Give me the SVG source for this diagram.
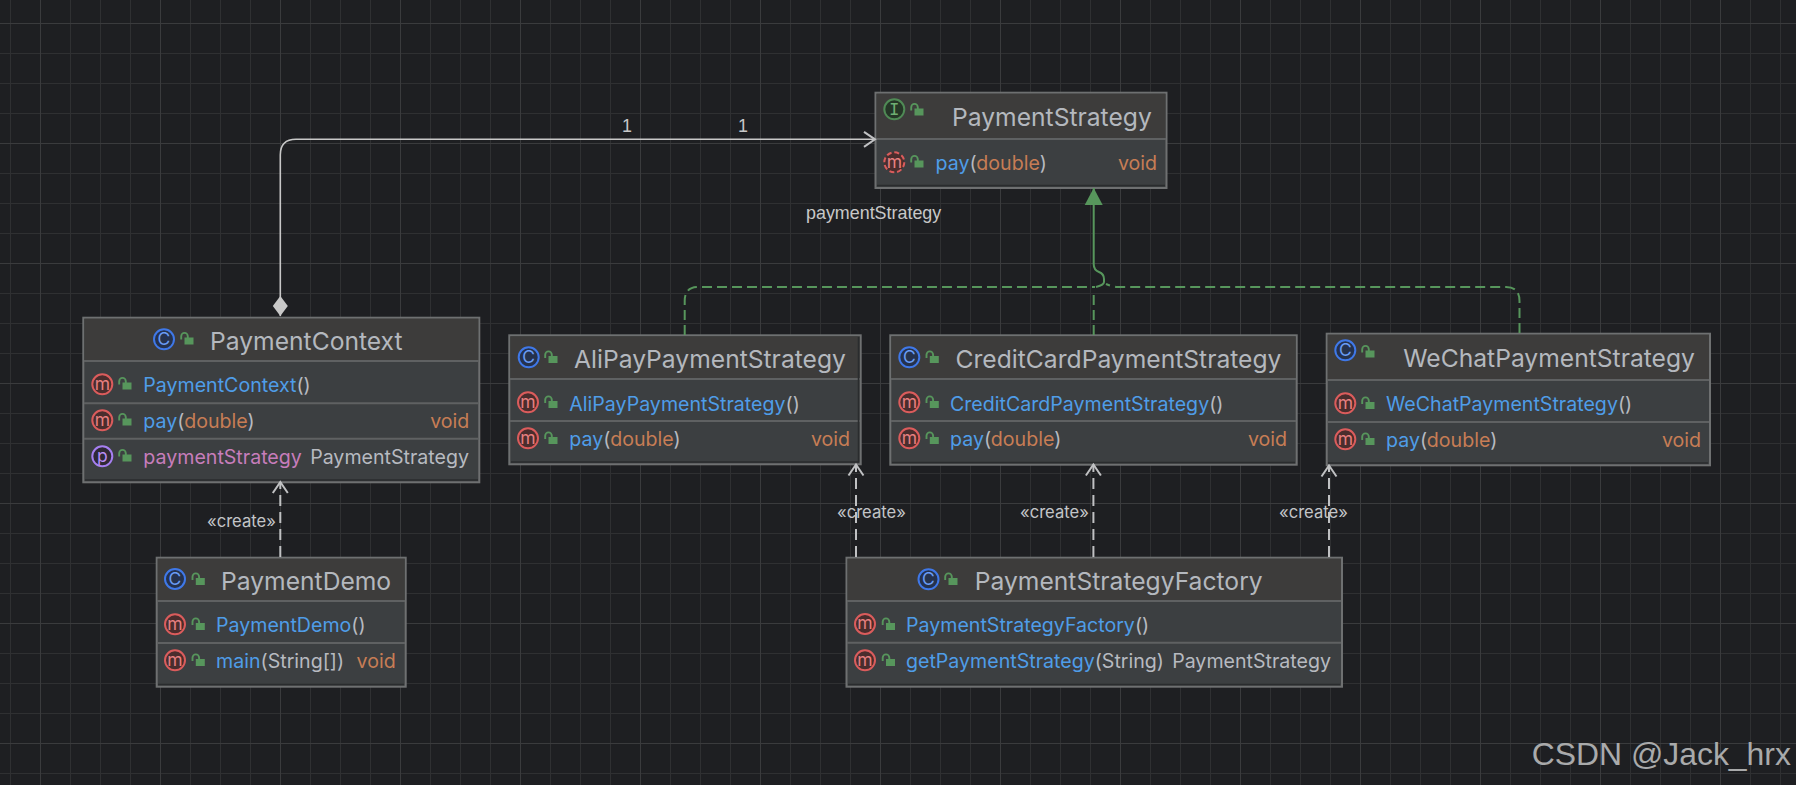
<svg xmlns="http://www.w3.org/2000/svg" width="1796" height="785" viewBox="0 0 1796 785">
<style>
text{font-family:"Inter","Noto Sans",sans-serif;white-space:pre}
.box{fill:#3c3f41;stroke:#6e7071;stroke-width:2}
.hd{fill:#3d3c3b}
.dv{stroke:#5f6162;stroke-width:2;fill:none}
.ed{stroke:#2a2c2e;stroke-width:1.5;fill:none}
.t{font-size:24.65px;fill:#b4b8be}
.r{font-size:19.6px;fill:#4f9de8}
.g{fill:#b7bac0}
.o{fill:#c77d55}
.v{font-size:19.6px;fill:#c77d55;text-anchor:end}
.ty{font-size:19.6px;fill:#b7bac0;text-anchor:end}
.pp{font-size:19.6px;fill:#c77dbb}
.ic{stroke-width:2}
.il{font-size:17.5px;text-anchor:middle}
.c .ic{fill:#25324d;stroke:#3f78e8}.c .il{fill:#6a9cf5}
.m .ic{fill:#4a2d2d;stroke:#db5c5c}.m .il{fill:#e88080}
.i .ic{fill:#253627;stroke:#4f8a55}.i .il{fill:#6fae72;font-family:"Liberation Mono",monospace}
.p .ic{fill:#2f2936;stroke:#a67ff0}.p .il{fill:#b88ef5}
.lbl{font-size:16.6px;fill:#c3c5c8}
.arl{font-family:"Liberation Sans",Arial,sans-serif;font-size:17.9px;fill:#c8c8c8}
.dash{fill:none;stroke:#c0c1c3;stroke-width:2;stroke-dasharray:11 6}
.real{fill:none;stroke:#57965c;stroke-width:2;stroke-dasharray:10 5}
</style>
<defs>
<pattern id="grid" width="120" height="120" patternUnits="userSpaceOnUse" x="10" y="23">
<path d="M0.5 0V120M30.5 0V120M60.5 0V120M90.5 0V120M0 0.5H120M0 30.5H120M0 60.5H120M0 90.5H120" stroke="#2f3032" stroke-width="1" fill="none"/>
<path d="M30.5 0V120M0 0.5H120" stroke="#3a3b3d" stroke-width="1" fill="none"/>
</pattern>
<g id="lock"><rect x="-2.5" y="-1.5" width="9" height="7" fill="#57965c"/><path d="M-5.8 0.5V-2.8a3.3 3.3 0 0 1 6.6 0V-0.5" fill="none" stroke="#57965c" stroke-width="1.9"/></g>
<marker id="open" markerUnits="userSpaceOnUse" markerWidth="24" markerHeight="24" refX="20" refY="12" orient="auto" overflow="visible"><path d="M9 4.5L20 12L9 19.5" fill="none" stroke="#c0c1c3" stroke-width="2"/></marker>
<marker id="tri" markerUnits="userSpaceOnUse" markerWidth="24" markerHeight="24" refX="20" refY="12" orient="auto"><path d="M3 3L20 12L3 21Z" fill="#57965c"/></marker>
<marker id="dia" markerUnits="userSpaceOnUse" markerWidth="24" markerHeight="24" refX="1" refY="12" orient="auto"><path d="M1 12L11 4.5L21 12L11 19.5Z" fill="#c8c8c8"/></marker>
</defs>
<rect width="1796" height="785" fill="#1e1f22"/>
<rect width="1796" height="785" fill="url(#grid)"/>

<g id="PaymentStrategy">
<rect class="box" x="875.5" y="92.7" width="291" height="95.3"/><rect class="hd" x="876.5" y="93.7" width="289" height="45"/>
<path class="dv" d="M876 139H1166"/><path class="ed" d="M877 185.5H1165"/>
<g class="i"><circle class="ic" cx="894.3" cy="109.3" r="10"/><text class="il" x="894.3" y="115">I</text></g><use href="#lock" x="917" y="110"/>
<text class="t" x="952" y="126">PaymentStrategy</text>
<g class="m"><circle class="ic" cx="894.3" cy="162.3" r="10" stroke-dasharray="5 2.8"/><text class="il" x="894.3" y="167.5">m</text></g><use href="#lock" x="917" y="162"/>
<text class="r" x="935.5" y="170">pay<tspan class="g">(</tspan><tspan class="o">double</tspan><tspan class="g">)</tspan></text>
<text class="v" x="1157" y="170">void</text>
</g>

<g id="PaymentContext">
<rect class="box" x="83.3" y="317.7" width="396" height="164.6"/><rect class="hd" x="84.3" y="318.7" width="394" height="42"/>
<path class="dv" d="M84 361H479M84 403.3H479M84 438.7H479"/><path class="ed" d="M85 480H478"/>
<g class="c"><circle class="ic" cx="164" cy="339.3" r="10"/><text class="il" x="164" y="345.4">C</text></g><use href="#lock" x="187" y="339"/>
<text class="t" x="210" y="350">PaymentContext</text>
<g class="m"><circle class="ic" cx="102.3" cy="384.3" r="10"/><text class="il" x="102.3" y="389.5">m</text></g><use href="#lock" x="125" y="384"/>
<text class="r" x="143.3" y="392">PaymentContext<tspan class="g">()</tspan></text>
<g class="m"><circle class="ic" cx="102.3" cy="420.3" r="10"/><text class="il" x="102.3" y="425.5">m</text></g><use href="#lock" x="125" y="420"/>
<text class="r" x="143.3" y="428">pay<tspan class="g">(</tspan><tspan class="o">double</tspan><tspan class="g">)</tspan></text>
<text class="v" x="469.3" y="428">void</text>
<g class="p"><circle class="ic" cx="102.3" cy="456.3" r="10"/><text class="il" x="102.3" y="461.5">p</text></g><use href="#lock" x="125" y="456"/>
<text class="pp" x="143.3" y="464">paymentStrategy</text>
<text class="ty" x="469" y="464">PaymentStrategy</text>
</g>

<g id="AliPayPaymentStrategy">
<rect class="box" x="509.3" y="335.3" width="351.4" height="129"/><rect class="hd" x="510.3" y="336.3" width="349.4" height="42"/>
<path class="dv" d="M510 379H860M510 421H860"/><path class="ed" d="M511 462H859M858.5 337V462"/>
<g class="c"><circle class="ic" cx="528.7" cy="357.3" r="10"/><text class="il" x="528.7" y="363.4">C</text></g><use href="#lock" x="551" y="357.5"/>
<text class="t" x="574" y="367.5">AliPayPaymentStrategy</text>
<g class="m"><circle class="ic" cx="528" cy="402.3" r="10"/><text class="il" x="528" y="407.5">m</text></g><use href="#lock" x="551" y="402.5"/>
<text class="r" x="569.3" y="410.5">AliPayPaymentStrategy<tspan class="g">()</tspan></text>
<g class="m"><circle class="ic" cx="528" cy="438.3" r="10"/><text class="il" x="528" y="443.5">m</text></g><use href="#lock" x="551" y="438.5"/>
<text class="r" x="569.3" y="446">pay<tspan class="g">(</tspan><tspan class="o">double</tspan><tspan class="g">)</tspan></text>
<text class="v" x="850" y="446">void</text>
</g>

<g id="CreditCardPaymentStrategy">
<rect class="box" x="890.3" y="335.3" width="406.4" height="129.4"/><rect class="hd" x="891.3" y="336.3" width="404.4" height="42"/>
<path class="dv" d="M891 379H1296M891 421H1296"/><path class="ed" d="M892 462.5H1295"/>
<g class="c"><circle class="ic" cx="909.3" cy="357.3" r="10"/><text class="il" x="909.3" y="363.4">C</text></g><use href="#lock" x="932.3" y="357.5"/>
<text class="t" x="955.5" y="367.5">CreditCardPaymentStrategy</text>
<g class="m"><circle class="ic" cx="909.3" cy="402.3" r="10"/><text class="il" x="909.3" y="407.5">m</text></g><use href="#lock" x="932.3" y="402.5"/>
<text class="r" x="950" y="410.5">CreditCardPaymentStrategy<tspan class="g">()</tspan></text>
<g class="m"><circle class="ic" cx="909.3" cy="438.3" r="10"/><text class="il" x="909.3" y="443.5">m</text></g><use href="#lock" x="932.3" y="438.5"/>
<text class="r" x="950" y="446">pay<tspan class="g">(</tspan><tspan class="o">double</tspan><tspan class="g">)</tspan></text>
<text class="v" x="1287" y="446">void</text>
</g>

<g id="WeChatPaymentStrategy">
<rect class="box" x="1326.7" y="333.7" width="383.3" height="131.6"/><rect class="hd" x="1327.7" y="334.7" width="381.3" height="45"/>
<path class="dv" d="M1327 380H1709M1327 422H1709"/><path class="ed" d="M1328 463H1708"/>
<g class="c"><circle class="ic" cx="1345.3" cy="350.3" r="10"/><text class="il" x="1345.3" y="356.4">C</text></g><use href="#lock" x="1368" y="352"/>
<text class="t" x="1403.3" y="367">WeChatPaymentStrategy</text>
<g class="m"><circle class="ic" cx="1345.3" cy="403.3" r="10"/><text class="il" x="1345.3" y="408.5">m</text></g><use href="#lock" x="1368" y="403.5"/>
<text class="r" x="1386" y="411">WeChatPaymentStrategy<tspan class="g">()</tspan></text>
<g class="m"><circle class="ic" cx="1345.3" cy="439.3" r="10"/><text class="il" x="1345.3" y="444.5">m</text></g><use href="#lock" x="1368" y="439.5"/>
<text class="r" x="1386" y="447">pay<tspan class="g">(</tspan><tspan class="o">double</tspan><tspan class="g">)</tspan></text>
<text class="v" x="1701" y="447">void</text>
</g>

<g id="PaymentDemo">
<rect class="box" x="156.7" y="557.7" width="249" height="129"/><rect class="hd" x="157.7" y="558.7" width="247" height="42"/>
<path class="dv" d="M157 601H405M157 643H405"/><path class="ed" d="M158 684.5H404"/>
<g class="c"><circle class="ic" cx="175" cy="579" r="10"/><text class="il" x="175" y="585.1">C</text></g><use href="#lock" x="198.3" y="579.5"/>
<text class="t" x="221" y="589.8">PaymentDemo</text>
<g class="m"><circle class="ic" cx="175" cy="624.3" r="10"/><text class="il" x="175" y="629.5">m</text></g><use href="#lock" x="198.3" y="624.5"/>
<text class="r" x="216" y="632">PaymentDemo<tspan class="g">()</tspan></text>
<g class="m"><circle class="ic" cx="175" cy="660.3" r="10"/><text class="il" x="175" y="665.5">m</text></g><use href="#lock" x="198.3" y="660.5"/>
<text class="r" x="216" y="668">main<tspan class="g">(String[])</tspan></text>
<text class="v" x="395.7" y="668">void</text>
</g>

<g id="PaymentStrategyFactory">
<rect class="box" x="846.5" y="557.7" width="495.5" height="129"/><rect class="hd" x="847.5" y="558.7" width="493.5" height="42"/>
<path class="dv" d="M847 601H1341M847 642.7H1341"/><path class="ed" d="M848 684.5H1340"/>
<g class="c"><circle class="ic" cx="928.5" cy="579.3" r="10"/><text class="il" x="928.5" y="585.4">C</text></g><use href="#lock" x="951" y="579.5"/>
<text class="t" x="974.8" y="589.8">PaymentStrategyFactory</text>
<g class="m"><circle class="ic" cx="865" cy="624" r="10"/><text class="il" x="865" y="629.2">m</text></g><use href="#lock" x="888.5" y="624.5"/>
<text class="r" x="906" y="631.7">PaymentStrategyFactory<tspan class="g">()</tspan></text>
<g class="m"><circle class="ic" cx="865" cy="660.3" r="10"/><text class="il" x="865" y="665.5">m</text></g><use href="#lock" x="888.5" y="660.5"/>
<text class="r" x="906" y="668">getPaymentStrategy<tspan class="g">(String)</tspan></text>
<text class="ty" x="1331" y="668">PaymentStrategy</text>
</g>

<g id="connectors">
<path d="M280.3 316V155Q280.3 139.3 296 139.3H875" fill="none" stroke="#c8c8c8" stroke-width="1.6" marker-start="url(#dia)" marker-end="url(#open)"/>
<path d="M1096 287Q1104 285 1104 282V279Q1104 274 1099 272Q1093.7 270 1093.7 264V188" fill="none" stroke="#57965c" stroke-width="2" marker-end="url(#tri)"/>
<path class="real" d="M684.7 335V301Q684.7 287 698 287H1095"/>
<path class="real" d="M1093.7 335V291"/>
<path class="real" d="M1519.5 333V301Q1519.5 287 1506 287H1116Q1110 286 1106 284"/>
<path class="dash" d="M856 557V464.5" marker-end="url(#open)"/>
<path class="dash" d="M1093.4 557V464.5" marker-end="url(#open)"/>
<path class="dash" d="M1329 557V465.5" marker-end="url(#open)"/>
<path class="dash" d="M280.3 557V482" marker-end="url(#open)"/>
<text class="lbl" x="207" y="526.5">«create»</text>
<text class="lbl" x="837" y="517.5">«create»</text>
<text class="lbl" x="1020" y="517.5">«create»</text>
<text class="lbl" x="1279" y="517.5">«create»</text>
<text class="arl" x="622" y="132">1</text>
<text class="arl" x="738" y="132">1</text>
<text class="arl" x="806" y="218.5">paymentStrategy</text>
</g>
<text x="1531.7" y="765" style="font-family:'Liberation Sans',Arial,sans-serif;font-size:31.9px;fill:#a9aaab">CSDN @Jack_hrx</text>
</svg>
